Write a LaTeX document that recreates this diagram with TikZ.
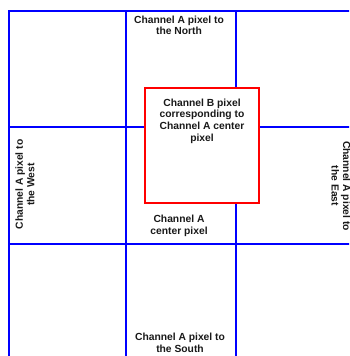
\documentclass[tikz,border=0pt]{standalone}
\usepackage{fontspec}
\setmainfont{Liberation Sans}
\begin{document}
\begin{tikzpicture}[x=1pt,y=-1pt,
  gridline/.style={draw={rgb,255:red,0;green,0;blue,255},line width=2pt},
  redbox/.style={draw={rgb,255:red,255;green,0;blue,0},line width=2pt,fill=white},
  lbl/.style={align=center,inner sep=0pt,text=black!90,font=\fontsize{10.3}{11.6}\selectfont\bfseries}]
\useasboundingbox (0,0) rectangle (349,356);
\clip (0,0) rectangle (349,356);
% grid
\draw[gridline] (9,360) -- (9,11) -- (360,11);
\draw[gridline] (126,11) -- (126,360);
\draw[gridline] (236,11) -- (236,360);
\draw[gridline] (9,127) -- (360,127);
\draw[gridline] (9,244) -- (360,244);
% red box
\draw[redbox] (145,88) rectangle (259,203);
% labels
\node[lbl] (north) at (179,25.3) {Channel A pixel to\\the North};
\node[lbl] (chb) at (202,121) {Channel B pixel\\corresponding to\\Channel A center\\pixel};
\node[lbl] (center) at (179,226) {Channel A\\center pixel};
\node[lbl] (south) at (180,343) {Channel A pixel to\\the South};
\node[lbl,rotate=90] (west) at (25,184.5) {Channel A pixel to\\the West};
\node[lbl,rotate=-90] (east) at (341,186) {Channel A pixel to\\the East};
\end{tikzpicture}
\end{document}
